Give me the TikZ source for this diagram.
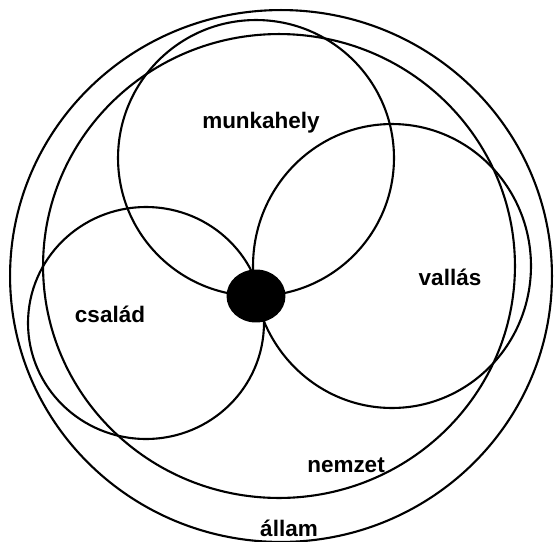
\documentclass[tikz,border=0pt]{standalone}
\usepackage{fontspec}
\setmainfont{Liberation Sans}
\usetikzlibrary{shapes,positioning}
\tikzset{
  ring/.style={draw=black,line width=1.2pt},
  lbl/.style={font=\fontsize{12.8}{15}\selectfont\bfseries,inner sep=0pt},
  core/.style={ellipse,fill=black,minimum width=1.18cm,minimum height=1.06cm,inner sep=0pt},
}

\begin{document}
\begin{tikzpicture}[x=0.02cm,y=-0.02cm]
  \useasboundingbox (0,0) rectangle (554,541);
  % outer rings
  \draw[ring] (281,276) ellipse [x radius=5.42cm, y radius=5.32cm];
  \draw[ring] (279,266) ellipse [x radius=4.72cm, y radius=4.64cm];
  % the three petals
  \draw[ring] (256,158) circle [radius=2.76cm];
  \draw[ring] (392,266) ellipse [x radius=2.78cm, y radius=2.84cm];
  \draw[ring] (146,323) ellipse [x radius=2.36cm, y radius=2.32cm];
  \node[core] (mid) at (256,296) {};
  \node[lbl] (work) at (261,123) {munkahely};
  \node[lbl] (faith) at (450,277) {vallás};
  \node[lbl] (home) at (110,314) {család};
  \node[lbl] (nation) at (346,465) {nemzet};
  \node[lbl] (state) at (289,528) {állam};
\end{tikzpicture}
\end{document}
